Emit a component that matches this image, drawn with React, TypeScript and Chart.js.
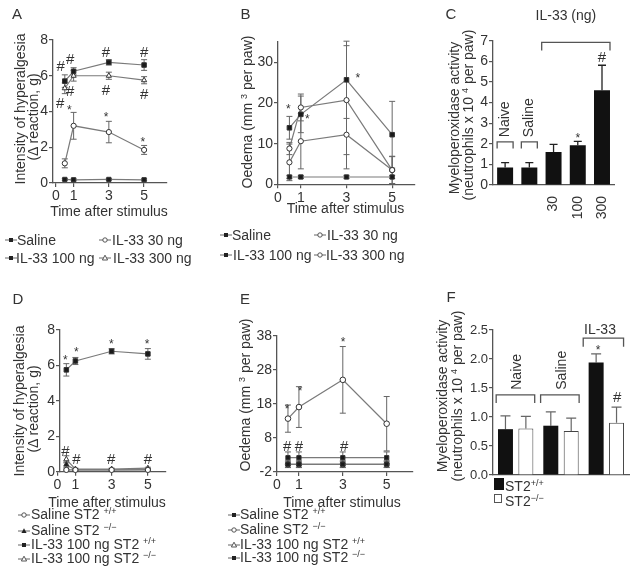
import React, { useEffect, useRef } from 'react';
import { Chart, registerables } from 'chart.js';
Chart.register(...registerables);

const FONT = '"Liberation Sans", Arial, Helvetica, sans-serif';
const TEXT = '#333';
const AXIS = '#555';
const LINE = '#7a7a7a';
Chart.defaults.font.family = FONT;

// ---------- shared ----------
const timePoints = [0.5, 1, 3, 5];
const timeTicks = [0, 1, 3, 5];

// ---------- Panel A ----------
const aYTicks = [0, 2, 4, 6, 8];
const aSaline = [0.2, 0.18, 0.2, 0.18];
const aSalineErr = [0.05, 0.05, 0.05, 0.05];
const a30 = [1.1, 3.2, 2.85, 1.85];
const a30Err = [0.25, 0.75, 0.6, 0.25];
const a100 = [5.7, 6.25, 6.75, 6.6];
const a100Err = [0.35, 0.2, 0.15, 0.3];
const a300 = [5.3, 6.0, 6.0, 5.75];
const a300Err = [0.3, 0.3, 0.2, 0.2];
const aHashes = [[0.27, 6.5], [0.8, 6.87], [2.84, 7.28], [5.0, 7.28], [2.84, 5.16], [5.0, 4.92], [0.8, 5.1], [0.23, 4.45]];
const aStars = [[0.76, 4.23], [2.84, 3.8], [4.93, 2.44]];

// ---------- Panel B ----------
const bYTicks = [0, 10, 20, 30];
const bSaline = [1.8, 1.8, 1.8, 1.8];
const bSalineErr = [0.4, 0.4, 0.4, 0.4];
const b30 = [5.4, 10.6, 12.2, 3.5];
const b30Err = [4.5, 6.8, 8.4, 3.3];
const b100 = [13.9, 17.2, 25.7, 12.2];
const b100Err = [2.8, 4.5, 9.5, 8.2];
const b300 = [8.8, 18.9, 20.7, 3.5];
const b300Err = [1.5, 3.3, 13.4, 3.4];
const bStars = [[0.45, 19.2], [1.28, 16.7], [3.5, 26.6]];

// ---------- Panel C ----------
const cCategories = ['Naive', 'Saline', '30', '100', '300'];
const cTickLabels = ['', '', '30', '100', '300'];
const cYTicks = [0, 1, 2, 3, 4, 5, 6, 7];
const cValues = [0.85, 0.85, 1.6, 1.93, 4.6];
const cErr = [0.24, 0.24, 0.37, 0.19, 1.21];
const cStars = [[3, 2.37]];
const cHashes = [[4, 6.18]];

// ---------- Panel D ----------
const dYTicks = [0, 2, 4, 6, 8];
const dSalinePos = [0.1, 0.1, 0.1, 0.1];
const dSalinePosErr = [0.05, 0.05, 0.05, 0.05];
const dSalineNeg = [0.4, 0.1, 0.1, 0.12];
const dSalineNegErr = [0.15, 0.05, 0.05, 0.05];
const dIL33Pos = [5.75, 6.25, 6.8, 6.65];
const dIL33PosErr = [0.35, 0.2, 0.15, 0.3];
const dIL33Neg = [0.7, 0.15, 0.15, 0.2];
const dIL33NegErr = [0.2, 0.05, 0.05, 0.05];
const dStars = [[0.45, 6.42], [1.05, 6.87], [2.98, 7.33], [4.96, 7.33]];
const dHashes = [[0.45, 1.11], [1.05, 0.66], [2.98, 0.66], [5.0, 0.66]];

// ---------- Panel E ----------
const eYTicks = [-2, 8, 18, 28, 38];
const eSalinePos = [0.3, 0.3, 0.3, 0.3];
const eSalinePosErr = [1, 1, 1, 1];
const eSalineNeg = [0.2, 0.2, 0.2, 0.2];
const eSalineNegErr = [0.8, 0.8, 0.8, 0.8];
const eIL33Pos = [13.7, 17.1, 25.1, 12.2];
const eIL33PosErr = [4, 6, 9.8, 8];
const eIL33Neg = [2.2, 2.2, 2.2, 2.2];
const eIL33NegErr = [1.7, 1.7, 1.7, 1.7];
const eStars = [[0.46, 17.3], [1.05, 22.5], [3.01, 36.8]];
const eHashes = [[0.46, 5.35], [1.0, 5.35], [3.06, 5.35]];

// ---------- Panel F ----------
const fCategories = ['Naive', 'Saline', 'IL-33'];
const fYTicks = [0, 0.5, 1, 1.5, 2, 2.5];
const fST2Pos = [0.79, 0.85, 1.94];
const fST2PosErr = [0.23, 0.24, 0.15];
const fST2Neg = [0.8, 0.76, 0.9];
const fST2NegErr = [0.21, 0.22, 0.27];
const fStars = [[1.82, 2.19]];
const fHashes = [[2.24, 1.33]];

// ---------- plugins ----------
const errorBarPlugin = {
  id: 'errorBars',
  beforeDatasetsDraw(chart: any, _a: any, opts: any) {
    if (opts.after) return;
    drawErrors(chart, opts);
  },
  afterDatasetsDraw(chart: any, _a: any, opts: any) {
    if (!opts.after) return;
    drawErrors(chart, opts);
  },
};

function drawErrors(chart: any, opts: any) {
  const ctx = chart.ctx;
  const cap = opts.cap ?? 3;
  chart.data.datasets.forEach((ds: any, di: number) => {
    if (!ds.errors) return;
    const meta = chart.getDatasetMeta(di);
    const ys = chart.scales[meta.yAxisID];
    meta.data.forEach((el: any, i: number) => {
      const raw = ds.data[i];
      const v = typeof raw === 'object' ? raw.y : raw;
      const e = ds.errors[i];
      const x = el.x;
      const yTop = ys.getPixelForValue(v + e);
      const yBot = ys.getPixelForValue(opts.upOnly ? v : v - e);
      ctx.save();
      ctx.strokeStyle = opts.color || '#666';
      ctx.lineWidth = opts.width || 1;
      ctx.beginPath();
      ctx.moveTo(x, yTop);
      ctx.lineTo(x, yBot);
      ctx.moveTo(x - cap, yTop);
      ctx.lineTo(x + cap, yTop);
      if (!opts.upOnly) {
        ctx.moveTo(x - cap, yBot);
        ctx.lineTo(x + cap, yBot);
      }
      ctx.stroke();
      ctx.restore();
    });
  });
}

const marksPlugin = {
  id: 'marks',
  afterDraw(chart: any, _a: any, opts: any) {
    const items = opts.items || [];
    const ctx = chart.ctx;
    const xs = chart.scales.x;
    const ys = chart.scales.y;
    items.forEach((m: any) => {
      const size = m.size || 14;
      ctx.save();
      ctx.font = `${size}px ${FONT}`;
      ctx.fillStyle = TEXT;
      ctx.textBaseline = 'middle';
      const px = xs.getPixelForValue(m.x);
      const py = ys.getPixelForValue(m.y) + (m.t === '*' ? 3 : 0);
      ctx.translate(px, py);
      if (m.rotate) {
        ctx.rotate(-Math.PI / 2);
        ctx.textAlign = 'left';
      } else {
        ctx.textAlign = 'center';
      }
      ctx.fillText(m.t, 0, 0);
      ctx.restore();
    });
  },
};

const bracketPlugin = {
  id: 'brackets',
  afterDraw(chart: any, _a: any, opts: any) {
    const items = opts.items || [];
    const ctx = chart.ctx;
    const xs = chart.scales.x;
    const ys = chart.scales.y;
    items.forEach((b: any) => {
      const x0 = xs.getPixelForValue(b.x0);
      const x1 = xs.getPixelForValue(b.x1);
      const y = ys.getPixelForValue(b.y);
      const yl = ys.getPixelForValue(b.leg);
      ctx.save();
      ctx.strokeStyle = '#555';
      ctx.lineWidth = 1.3;
      ctx.beginPath();
      ctx.moveTo(x0, yl);
      ctx.lineTo(x0, y);
      ctx.lineTo(x1, y);
      ctx.lineTo(x1, yl);
      ctx.stroke();
      ctx.restore();
    });
  },
};

const axisGrid = { display: true, drawOnChartArea: false, drawTicks: true, tickLength: 4, color: AXIS, lineWidth: 1.2 };
const axisBorder = { display: true, color: AXIS, width: 1.3 };
const tickFont = { size: 14, family: FONT };

function toMarks(hashes: number[][], stars: number[][]) {
  return [
    ...hashes.map(([x, y]) => ({ x, y, t: '#', size: 15 })),
    ...stars.map(([x, y]) => ({ x, y, t: '*', size: 12 })),
  ];
}

function lineChart(p: any) {
  return {
    type: 'line',
    data: {
      datasets: p.series.map((s: any) => ({
        label: s.label,
        data: timePoints.map((t, i) => ({ x: t, y: s.values[i] })),
        errors: s.errors,
        borderColor: LINE,
        borderWidth: 1.2,
        tension: 0,
        fill: false,
        pointStyle: s.style,
        pointRadius: s.radius,
        pointBorderWidth: 1,
        pointBackgroundColor: s.filled ? '#1a1a1a' : '#fff',
        pointBorderColor: '#333',
        clip: false,
      })),
    },
    options: {
      responsive: false,
      animation: false,
      events: [],
      layout: { padding: p.pad },
      plugins: {
        legend: { display: false },
        tooltip: { enabled: false },
        errorBars: { cap: 3, color: '#666' },
        marks: { items: toMarks(p.hashes, p.stars) },
      },
      scales: {
        x: {
          type: 'linear',
          min: p.xMin,
          max: p.xMax,
          afterBuildTicks: (s: any) => { s.ticks = timeTicks.map((v) => ({ value: v })); },
          afterFit: (s: any) => { s.height = p.xHeight; },
          grid: axisGrid,
          border: axisBorder,
          ticks: { color: TEXT, font: tickFont, padding: 1, maxRotation: 0, autoSkip: false },
        },
        y: {
          type: 'linear',
          min: p.yMin,
          max: p.yMax,
          afterBuildTicks: (s: any) => { s.ticks = p.yTicks.map((v: number) => ({ value: v })); },
          afterFit: (s: any) => { s.width = p.yWidth; },
          grid: axisGrid,
          border: axisBorder,
          ticks: { color: TEXT, font: tickFont, padding: 1, autoSkip: false },
        },
      },
    },
    plugins: [errorBarPlugin, marksPlugin],
  };
}

const makeA = () => lineChart({
  series: [
    { label: 'Saline', values: aSaline, errors: aSalineErr, style: 'rect', filled: true, radius: 3 },
    { label: 'IL-33 30 ng', values: a30, errors: a30Err, style: 'circle', filled: false, radius: 2.6 },
    { label: 'IL-33 100 ng', values: a100, errors: a100Err, style: 'rect', filled: true, radius: 3.2 },
    { label: 'IL-33 300 ng', values: a300, errors: a300Err, style: 'triangle', filled: false, radius: 3 },
  ],
  xMin: -0.17, xMax: 6.3, yMin: 0, yMax: 8, yTicks: aYTicks,
  pad: { left: 0, top: 40, right: 38, bottom: 0 }, yWidth: 53, xHeight: 42,
  hashes: aHashes, stars: aStars,
});

const makeB = () => lineChart({
  series: [
    { label: 'Saline', values: bSaline, errors: bSalineErr, style: 'rect', filled: true, radius: 3 },
    { label: 'IL-33 30 ng', values: b30, errors: b30Err, style: 'circle', filled: false, radius: 2.6 },
    { label: 'IL-33 100 ng', values: b100, errors: b100Err, style: 'rect', filled: true, radius: 3.2 },
    { label: 'IL-33 300 ng', values: b300, errors: b300Err, style: 'circle', filled: false, radius: 2.6 },
  ],
  xMin: 0, xMax: 6.0, yMin: 0, yMax: 35, yTicks: bYTicks,
  pad: { left: 0, top: 42, right: 10, bottom: 0 }, yWidth: 53, xHeight: 40.7,
  hashes: [], stars: bStars,
});

const makeD = () => lineChart({
  series: [
    { label: 'Saline ST2 +/+', values: dSalinePos, errors: dSalinePosErr, style: 'circle', filled: false, radius: 2.6 },
    { label: 'Saline ST2 -/-', values: dSalineNeg, errors: dSalineNegErr, style: 'triangle', filled: true, radius: 3 },
    { label: 'IL-33 100 ng ST2 +/+', values: dIL33Pos, errors: dIL33PosErr, style: 'rect', filled: true, radius: 3.2 },
    { label: 'IL-33 100 ng ST2 -/-', values: dIL33Neg, errors: dIL33NegErr, style: 'triangle', filled: false, radius: 3 },
  ],
  xMin: 0.15, xMax: 6.0, yMin: 0, yMax: 8, yTicks: dYTicks,
  pad: { left: 0, top: 40, right: 39, bottom: 0 }, yWidth: 60, xHeight: 43.3,
  hashes: dHashes, stars: dStars,
});

const makeE = () => lineChart({
  series: [
    { label: 'Saline ST2 +/+', values: eSalinePos, errors: eSalinePosErr, style: 'rect', filled: true, radius: 3 },
    { label: 'Saline ST2 -/-', values: eSalineNeg, errors: eSalineNegErr, style: 'circle', filled: false, radius: 2.6 },
    { label: 'IL-33 100 ng ST2 +/+', values: eIL33Pos, errors: eIL33PosErr, style: 'circle', filled: false, radius: 2.8 },
    { label: 'IL-33 100 ng ST2 -/-', values: eIL33Neg, errors: eIL33NegErr, style: 'rect', filled: true, radius: 3 },
  ],
  xMin: 0, xMax: 6.2, yMin: -2, yMax: 38, yTicks: eYTicks,
  pad: { left: 0, top: 46, right: 12, bottom: 0 }, yWidth: 52, xHeight: 43,
  hashes: eHashes, stars: eStars,
});

const makeC = () => ({
  type: 'bar',
  data: {
    labels: cCategories,
    datasets: [{
      label: 'MPO',
      data: cValues,
      errors: cErr,
      backgroundColor: '#111',
      borderWidth: 0,
      barPercentage: 0.66,
      categoryPercentage: 1.0,
    }],
  },
  options: {
    responsive: false,
    animation: false,
    events: [],
    layout: { padding: { left: 0, top: 40.7, right: 2, bottom: 0 } },
    plugins: {
      legend: { display: false },
      tooltip: { enabled: false },
      errorBars: { cap: 4, upOnly: true, color: '#222', width: 1.3 },
      marks: {
        items: [
          ...toMarks(cHashes, cStars),
          { x: 0, y: 2.32, t: 'Naive', size: 14, rotate: true },
          { x: 1, y: 2.32, t: 'Saline', size: 14, rotate: true },
          { x: 2.51, y: 8.2, t: 'IL-33 (ng)', size: 14 },
        ],
      },
      brackets: {
        items: [
          { x0: -0.33, x1: 0.33, y: 2.09, leg: 1.77 },
          { x0: 0.67, x1: 1.33, y: 2.09, leg: 1.77 },
          { x0: 1.51, x1: 4.33, y: 6.92, leg: 6.52 },
        ],
      },
    },
    scales: {
      x: {
        type: 'category',
        afterFit: (s: any) => { s.height = 45; },
        grid: { display: false, drawTicks: false },
        border: axisBorder,
        ticks: {
          color: TEXT, font: tickFont, padding: 11, minRotation: 90, maxRotation: 90, autoSkip: false,
          callback: (_v: any, i: number) => cTickLabels[i],
        },
      },
      y: {
        type: 'linear',
        min: 0,
        max: 7,
        afterBuildTicks: (s: any) => { s.ticks = cYTicks.map((v) => ({ value: v })); },
        afterFit: (s: any) => { s.width = 68; },
        grid: axisGrid,
        border: axisBorder,
        ticks: { color: TEXT, font: tickFont, padding: 1, autoSkip: false },
      },
    },
  },
  plugins: [errorBarPlugin, marksPlugin, bracketPlugin],
});

const makeF = () => ({
  type: 'bar',
  data: {
    labels: fCategories,
    datasets: [
      {
        label: 'ST2+/+',
        data: fST2Pos,
        errors: fST2PosErr,
        backgroundColor: '#111',
        borderColor: '#111',
        borderWidth: 0,
        barPercentage: 0.735,
        categoryPercentage: 0.9,
      },
      {
        label: 'ST2-/-',
        data: fST2Neg,
        errors: fST2NegErr,
        backgroundColor: '#fff',
        borderColor: '#444',
        borderWidth: 1,
        barPercentage: 0.735,
        categoryPercentage: 0.9,
      },
    ],
  },
  options: {
    responsive: false,
    animation: false,
    events: [],
    layout: { padding: { left: 0, top: 40, right: 1, bottom: 0 } },
    plugins: {
      legend: { display: false },
      tooltip: { enabled: false },
      errorBars: { cap: 5, upOnly: true, color: '#666', width: 1.2 },
      marks: {
        items: [
          ...toMarks(fHashes, fStars),
          { x: 0.03, y: 1.47, t: 'Naive', size: 14, rotate: true },
          { x: 1.03, y: 1.47, t: 'Saline', size: 14, rotate: true },
          { x: 1.86, y: 2.5, t: 'IL-33', size: 14 },
        ],
      },
      brackets: {
        items: [
          { x0: -0.43, x1: 0.42, y: 1.38, leg: 1.24 },
          { x0: 0.55, x1: 1.4, y: 1.38, leg: 1.24 },
          { x0: 1.49, x1: 2.38, y: 2.36, leg: 2.21 },
        ],
      },
    },
    scales: {
      x: {
        type: 'category',
        afterFit: (s: any) => { s.height = 40; },
        grid: { display: false, drawTicks: false },
        border: axisBorder,
        ticks: { display: false },
      },
      y: {
        type: 'linear',
        min: 0,
        max: 2.5,
        afterBuildTicks: (s: any) => { s.ticks = fYTicks.map((v) => ({ value: v })); },
        afterFit: (s: any) => { s.width = 68; },
        grid: axisGrid,
        border: axisBorder,
        ticks: {
          color: TEXT, font: { size: 13, family: FONT }, padding: 1, autoSkip: false,
          callback: (v: any) => Number(v).toFixed(1),
        },
      },
    },
  },
  plugins: [errorBarPlugin, marksPlugin, bracketPlugin],
});

// ---------- HTML helpers ----------
function ChartCanvas({ left, top, width, height, make }: any) {
  const ref = useRef<HTMLCanvasElement>(null);
  useEffect(() => {
    const chart = new Chart(ref.current as HTMLCanvasElement, make());
    return () => chart.destroy();
  }, []);
  return <canvas ref={ref} width={width} height={height} style={{ position: 'absolute', left, top, width, height }} />;
}

const T = ({ x, y, size = 14, rot = false, children }: any) => (
  <div
    style={{
      position: 'absolute', left: x, top: y,
      transform: rot ? 'translate(-50%,-50%) rotate(-90deg)' : 'translate(-50%,-50%)',
      fontSize: size, lineHeight: `${size}px`, whiteSpace: 'nowrap', color: TEXT, fontFamily: FONT,
    }}
  >
    {children}
  </div>
);

const Sup = ({ children }: any) => (
  <span style={{ fontSize: 9, position: 'relative', top: -5 }}>{children}</span>
);

function Marker({ kind }: any) {
  return (
    <svg width="12" height="8" style={{ display: 'block' }}>
      <line x1="0" y1="4" x2="12" y2="4" stroke="#666" strokeWidth="1" />
      {kind === 'sqF' && <rect x="4" y="2" width="4" height="4" fill="#222" />}
      {kind === 'cirO' && <circle cx="6" cy="4" r="2.2" fill="#fff" stroke="#444" strokeWidth="0.9" />}
      {kind === 'triO' && <polygon points="6,1.2 8.6,6 3.4,6" fill="#fff" stroke="#444" strokeWidth="0.9" />}
      {kind === 'triF' && <polygon points="6,1.2 8.6,6 3.4,6" fill="#222" />}
    </svg>
  );
}

const LegendItem = ({ x, y, tx, kind, children }: any) => (
  <div style={{ position: 'absolute', left: x, top: y - 8, height: 16, display: 'flex', alignItems: 'center', color: TEXT, fontFamily: FONT, fontSize: 14, whiteSpace: 'nowrap' }}>
    <Marker kind={kind} />
    <span style={{ marginLeft: tx - x - 12, lineHeight: '16px' }}>{children}</span>
  </div>
);

export default function App() {
  return (
    <div style={{ position: 'absolute', left: 0, top: 0, width: 630, height: 583, background: '#fff', overflow: 'hidden', fontFamily: FONT }}>
      <ChartCanvas left={0} top={0} width={205} height={225} make={makeA} />
      <ChartCanvas left={225} top={0} width={200} height={225} make={makeB} />
      <ChartCanvas left={425} top={0} width={205} height={230} make={makeC} />
      <ChartCanvas left={0} top={290} width={205} height={225} make={makeD} />
      <ChartCanvas left={225} top={290} width={200} height={225} make={makeE} />
      <ChartCanvas left={425} top={290} width={205} height={225} make={makeF} />

      {/* panel letters */}
      <T x={17} y={13} size={15}>A</T>
      <T x={245.5} y={12.5} size={15}>B</T>
      <T x={451} y={13} size={15}>C</T>
      <T x={18} y={298} size={15}>D</T>
      <T x={245} y={298} size={15}>E</T>
      <T x={451} y={296} size={15}>F</T>

      {/* axis titles A */}
      <T x={20} y={109} rot>Intensity of hyperalgesia</T>
      <T x={33} y={117} rot>(Δ reaction, g)</T>
      <T x={109} y={211}>Time after stimulus</T>

      {/* B */}
      <T x={248} y={112} rot>Oedema (mm <Sup>3</Sup> per paw)</T>
      <T x={345.5} y={208}>Time after stimulus</T>

      {/* C */}
      <T x={454} y={117.5} rot>Myeloperoxidase activity</T>
      <T x={469} y={115} rot>(neutrophils x 10 <Sup>4</Sup> per paw)</T>

      {/* D */}
      <T x={19} y={401} rot>Intensity of hyperalgesia</T>
      <T x={33} y={409} rot>(Δ reaction, g)</T>
      <T x={107} y={502}>Time after stimulus</T>

      {/* E */}
      <T x={245.5} y={395} rot>Oedema (mm <Sup>3</Sup> per paw)</T>
      <T x={342} y={502}>Time after stimulus</T>

      {/* F */}
      <T x={442} y={395.5} rot>Myeloperoxidase activity</T>
      <T x={457.5} y={396} rot>(neutrophils x 10 <Sup>4</Sup> per paw)</T>

      {/* legend A */}
      <LegendItem x={5} y={240} tx={17} kind="sqF">Saline</LegendItem>
      <LegendItem x={99} y={240} tx={112} kind="cirO">IL-33 30 ng</LegendItem>
      <LegendItem x={5} y={258} tx={16} kind="sqF">IL-33 100 ng</LegendItem>
      <LegendItem x={99} y={258} tx={113} kind="triO">IL-33 300 ng</LegendItem>

      {/* legend B */}
      <LegendItem x={220} y={235} tx={232} kind="sqF">Saline</LegendItem>
      <LegendItem x={314} y={235} tx={327} kind="cirO">IL-33 30 ng</LegendItem>
      <LegendItem x={220} y={255} tx={233} kind="sqF">IL-33 100 ng</LegendItem>
      <LegendItem x={314} y={255} tx={326} kind="cirO">IL-33 300 ng</LegendItem>

      {/* legend D */}
      <LegendItem x={18} y={515} tx={31} kind="cirO">Saline ST2 <Sup>+/+</Sup></LegendItem>
      <LegendItem x={18} y={530.7} tx={31} kind="triF">Saline ST2 <Sup>−/−</Sup></LegendItem>
      <LegendItem x={18} y={545} tx={31} kind="sqF">IL-33 100 ng ST2 <Sup>+/+</Sup></LegendItem>
      <LegendItem x={18} y={559} tx={31} kind="triO">IL-33 100 ng ST2 <Sup>−/−</Sup></LegendItem>

      {/* legend E */}
      <LegendItem x={228} y={515} tx={240} kind="sqF">Saline ST2 <Sup>+/+</Sup></LegendItem>
      <LegendItem x={228} y={530} tx={240} kind="cirO">Saline ST2 <Sup>−/−</Sup></LegendItem>
      <LegendItem x={228} y={545} tx={240} kind="triO">IL-33 100 ng ST2 <Sup>+/+</Sup></LegendItem>
      <LegendItem x={228} y={558} tx={240} kind="sqF">IL-33 100 ng ST2 <Sup>−/−</Sup></LegendItem>

      {/* legend F */}
      <div style={{ position: 'absolute', left: 494, top: 478, width: 10, height: 12, background: '#111' }} />
      <div style={{ position: 'absolute', left: 505, top: 479, fontSize: 14, lineHeight: '14px', color: TEXT, fontFamily: FONT, whiteSpace: 'nowrap' }}>ST2<Sup>+/+</Sup></div>
      <div style={{ position: 'absolute', left: 494, top: 494, width: 8, height: 9, background: '#fff', border: '1px solid #555', boxSizing: 'border-box' }} />
      <div style={{ position: 'absolute', left: 505, top: 494, fontSize: 14, lineHeight: '14px', color: TEXT, fontFamily: FONT, whiteSpace: 'nowrap' }}>ST2<Sup>−/−</Sup></div>
    </div>
  );
}
